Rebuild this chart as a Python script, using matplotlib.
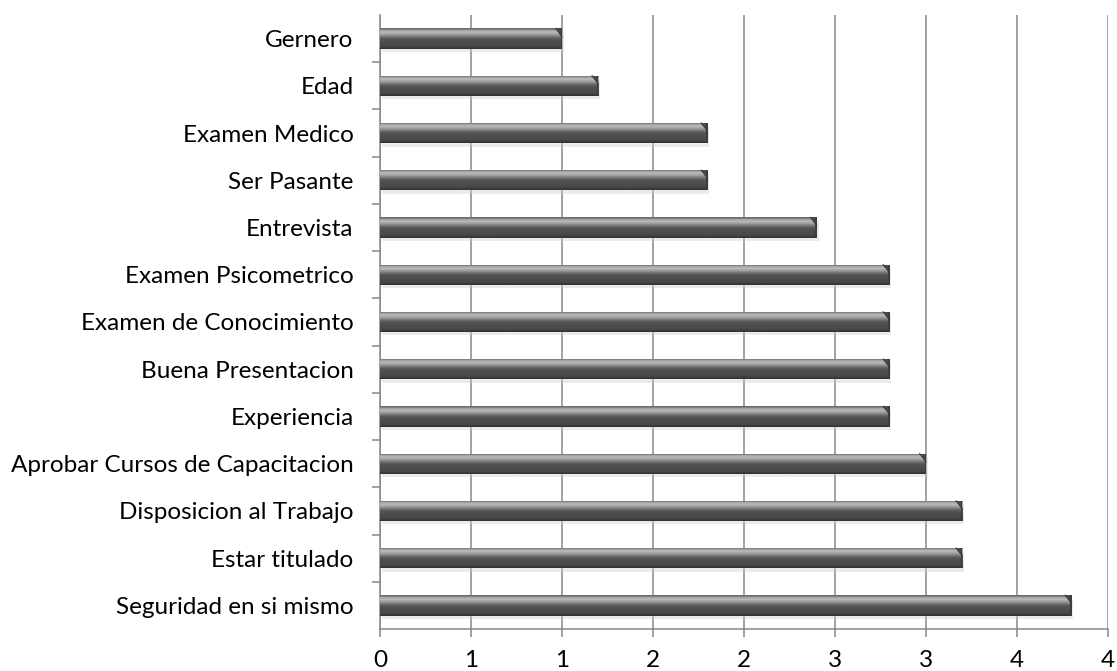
import numpy as np
import matplotlib.pyplot as plt
from matplotlib.patches import Polygon, Rectangle

plt.rcParams['font.family'] = ['Lato', 'DejaVu Sans']

# categorias de arriba hacia abajo
categories = ['Gernero', 'Edad', 'Examen Medico', 'Ser Pasante', 'Entrevista',
              'Examen Psicometrico', 'Examen de Conocimiento', 'Buena Presentacion',
              'Experiencia', 'Aprobar Cursos de Capacitacion', 'Disposicion al Trabajo',
              'Estar titulado', 'Seguridad en si mismo']
values = [1.0, 1.2, 1.8, 1.8, 2.4, 2.8, 2.8, 2.8, 2.8, 3.0, 3.2, 3.2, 3.8]
x_ticks = [0, 0.5, 1, 1.5, 2, 2.5, 3, 3.5, 4]
x_tick_labels = ['0', '1', '1', '2', '2', '3', '3', '4', '4']

fig = plt.figure(figsize=(11.17, 6.71), dpi=100)
ax = fig.add_axes([380/1117, 1 - 629/671, (1108 - 380)/1117, (629 - 15)/671])

n = len(categories)
ypos = np.arange(n)[::-1]
h = 0.43

bars = ax.barh(ypos, values, height=h, color='#4f4f4f', zorder=3)

# degradado vertical tipo cilindro (de arriba hacia abajo)
prof = np.array([0.42, 0.66, 0.72, 0.64, 0.52, 0.40, 0.33, 0.31, 0.30, 0.29, 0.28, 0.21])
grad = np.repeat(prof[:, None], 2, axis=1)
for b, y, v in zip(bars, ypos, values):
    top = y + h/2
    bot = y - h/2
    # sombra
    ax.add_patch(Rectangle((0.01, bot - 0.07), v, h, facecolor='#cfcfcf', alpha=0.4,
                           edgecolor='none', zorder=2))
    im = ax.imshow(grad, cmap='gray', vmin=0, vmax=1, aspect='auto',
                   extent=(0, v, bot, top), interpolation='bilinear', zorder=3)
    im.set_clip_path(b)
    dx = 0.035
    ax.add_patch(Polygon([(v - dx, top), (v, top), (v, top - 0.4*h)],
                         closed=True, facecolor='#4a4a4a', edgecolor='none', zorder=4))
    ax.plot([v - dx, v], [top, top - 0.4*h], color='#3a3a3a', lw=0.8, zorder=4)
    ax.add_patch(Rectangle((v - 0.008, bot), 0.008, h, facecolor='#3c3c3c',
                           edgecolor='none', zorder=4))

ax.set_xlim(0, 4)
ax.set_ylim(-0.5, n - 0.5)

ax.set_xticks(x_ticks)
ax.set_xticklabels(x_tick_labels, fontsize=17.5)
ax.set_yticks(ypos)
ax.set_yticklabels(categories, fontsize=17.5)
ax.set_yticks(np.arange(n - 1) + 0.5, minor=True)

ax.grid(axis='x', color='#878787', lw=1.1, zorder=1)
ax.set_axisbelow(True)

for s in ['top', 'right']:
    ax.spines[s].set_visible(False)
for s in ['left', 'bottom']:
    ax.spines[s].set_color('#878787')
    ax.spines[s].set_linewidth(1.1)

ax.tick_params(axis='y', which='major', length=0, pad=19)
ax.tick_params(axis='y', which='minor', length=6, width=1.1, color='#878787')
ax.tick_params(axis='x', length=6, width=1.1, color='#878787', pad=9)

fig.savefig('out.png', dpi=100)
